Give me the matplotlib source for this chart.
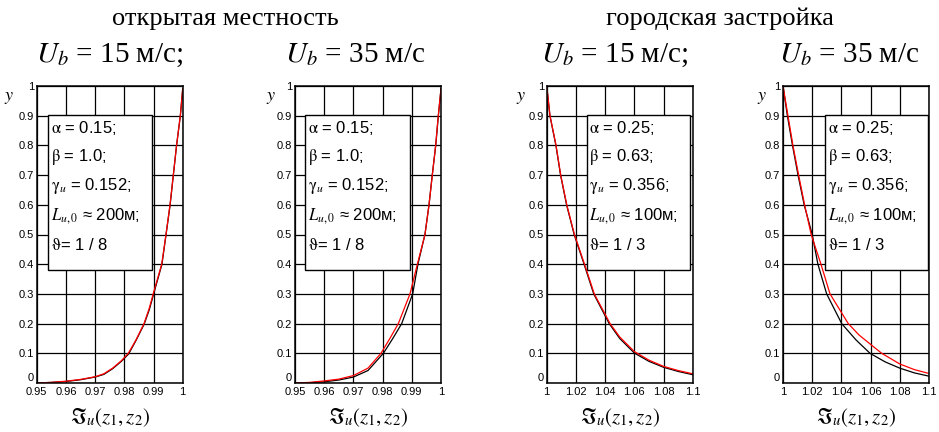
import matplotlib
matplotlib.use("Agg")
import matplotlib.pyplot as plt
from matplotlib.patches import Rectangle

plt.rcParams['mathtext.fontset'] = 'stix'

# headings
group_titles = ['открытая местность', 'городская застройка']
speed_titles = [r'$U_b$ = 15 м/с;', r'$U_b$ = 35 м/с', r'$U_b$ = 15 м/с;', r'$U_b$ = 35 м/с']

# parameter boxes
box_open = [r'$\mathrm{\alpha}$ = 0.15;', r'$\mathrm{\beta}$ = 1.0;', r'$\mathrm{\gamma}_u$ = 0.152;',
            r'$L_{u,0}$ ≈ 200м;', r'$\mathrm{\vartheta}$= 1 / 8']
box_urban = [r'$\mathrm{\alpha}$ = 0.25;', r'$\mathrm{\beta}$ = 0.63;', r'$\mathrm{\gamma}_u$ = 0.356;',
             r'$L_{u,0}$ ≈ 100м;', r'$\mathrm{\vartheta}$= 1 / 3']

# ticks
xt_open = [0.95, 0.96, 0.97, 0.98, 0.99, 1.0]
xl_open = ['0.95', '0.96', '0.97', '0.98', '0.99', '1']
xt_urban = [1.0, 1.02, 1.04, 1.06, 1.08, 1.1]
xl_urban = ['1', '1.02', '1.04', '1.06', '1.08', '1.1']
yt = [0, 0.1, 0.2, 0.3, 0.4, 0.5, 0.6, 0.7, 0.8, 0.9, 1.0]
yl = ['0', '0.1', '0.2', '0.3', '0.4', '0.5', '0.6', '0.7', '0.8', '0.9', '1']

# curves: open terrain, 15 m/s
x1_black = [0.95, 0.955, 0.96, 0.965, 0.97, 0.973, 0.976, 0.979, 0.9815, 0.984, 0.9868, 0.9886,
            0.99, 0.9929, 0.9943, 0.9957, 0.9968, 0.9979, 0.9992, 1.0]
y1_black = [0, 0.002, 0.005, 0.011, 0.02, 0.029, 0.048, 0.073, 0.098, 0.143, 0.198, 0.248,
            0.298, 0.4, 0.5, 0.6, 0.7, 0.8, 0.9, 0.99]
x1_red = [0.95, 0.955, 0.96, 0.965, 0.97, 0.973, 0.976, 0.979, 0.98137, 0.984, 0.98675, 0.9885,
          0.9899, 0.99281, 0.99428, 0.99565, 0.99678, 0.9979, 0.99918, 1.0]
y1_red = [0, 0.002, 0.006, 0.012, 0.021, 0.031, 0.05, 0.075, 0.1, 0.145, 0.2, 0.25,
          0.3, 0.4, 0.5, 0.6, 0.7, 0.8, 0.9, 0.99]
# open terrain, 35 m/s
x2_black = [0.95, 0.955, 0.96, 0.965, 0.97, 0.975, 0.98027, 0.9835, 0.98654, 0.9903, 0.9921,
            0.9945, 0.9959, 0.997, 0.9982, 0.9991, 1.0]
y2_black = [0, 0.001, 0.004, 0.01, 0.02, 0.042, 0.1, 0.15, 0.2, 0.3, 0.4,
            0.5, 0.6, 0.7, 0.8, 0.9, 0.99]
x2_red = [0.95, 0.955, 0.96, 0.965, 0.97, 0.975, 0.97945, 0.9825, 0.98539, 0.98938, 0.9919,
          0.99452, 0.99589, 0.99703, 0.99817, 0.99906, 1.0]
y2_red = [0, 0.002, 0.007, 0.013, 0.025, 0.05, 0.1, 0.15, 0.2, 0.3, 0.4,
          0.5, 0.6, 0.7, 0.8, 0.9, 0.99]
# urban, 15 m/s
x3_black = [1.0, 1.0022, 1.0063, 1.0095, 1.0136, 1.0188, 1.0256, 1.0322, 1.0428, 1.05, 1.06,
            1.07, 1.08, 1.09, 1.1]
y3_black = [1.0, 0.9, 0.8, 0.7, 0.6, 0.5, 0.4, 0.3, 0.2, 0.15, 0.101,
            0.073, 0.053, 0.039, 0.028]
x3_red = [1.0, 1.00227, 1.0064, 1.0096, 1.01376, 1.019, 1.0259, 1.0326, 1.0434, 1.05, 1.06,
          1.07, 1.08, 1.09, 1.1]
y3_red = [1.0, 0.9, 0.8, 0.7, 0.6, 0.5, 0.4, 0.3, 0.2, 0.155, 0.106,
          0.077, 0.056, 0.042, 0.031]
# urban, 35 m/s
x4_black = [1.0, 1.003, 1.0065, 1.0103, 1.0145, 1.02, 1.0239, 1.0299, 1.0402, 1.05, 1.0596,
            1.07, 1.08, 1.09, 1.1]
y4_black = [1.0, 0.9, 0.8, 0.7, 0.6, 0.5, 0.4, 0.3, 0.2, 0.145, 0.1,
            0.071, 0.05, 0.034, 0.023]
x4_red = [1.0, 1.0034, 1.0068, 1.0107, 1.0148, 1.0193, 1.026, 1.0322, 1.0447, 1.052, 1.06,
          1.0676, 1.08, 1.09, 1.1]
y4_red = [1.0, 0.9, 0.8, 0.7, 0.6, 0.5, 0.4, 0.3, 0.2, 0.162, 0.13,
          0.1, 0.064, 0.045, 0.032]

panels = [
    dict(xb=x1_black, yb=y1_black, xr=x1_red, yr=y1_red, xt=xt_open, xl=xl_open, box=box_open,
         left=36.7, bx=(0.078, 0.79), tx=0.1, ylab=-0.19),
    dict(xb=x2_black, yb=y2_black, xr=x2_red, yr=y2_red, xt=xt_open, xl=xl_open, box=box_open,
         left=295, bx=(0.068, 0.788), tx=0.09, ylab=-0.166),
    dict(xb=x3_black, yb=y3_black, xr=x3_red, yr=y3_red, xt=xt_urban, xl=xl_urban, box=box_urban,
         left=546.7, bx=(0.275, 0.979), tx=0.29, ylab=-0.179),
    dict(xb=x4_black, yb=y4_black, xr=x4_red, yr=y4_red, xt=xt_urban, xl=xl_urban, box=box_urban,
         left=783, bx=(0.288, 0.991), tx=0.305, ylab=-0.146),
]

W, H = 939, 432
fig = plt.figure(figsize=(W / 100, H / 100), dpi=100)

for p in panels:
    ax = fig.add_axes([p['left'] / W, (H - 383) / H, 146 / W, 297 / H])
    ax.plot(p['xb'], p['yb'], color='black', lw=0.9)
    ax.plot(p['xr'], p['yr'], color='red', lw=0.9)
    ax.set_xlim(p['xt'][0], p['xt'][-1])
    ax.set_ylim(0, 1)
    ax.set_xticks(p['xt'])
    ax.set_xticklabels(p['xl'], fontfamily='Liberation Sans', fontsize=8)
    ax.set_yticks(yt)
    ax.set_yticklabels(yl, fontfamily='Liberation Sans', fontsize=8)
    ax.get_yticklabels()[0].set_va('bottom')
    ax.tick_params(length=0, pad=2)
    ax.tick_params(axis='x', pad=3)
    ax.set_axisbelow(True)
    ax.grid(True, color='black', lw=0.9)
    for s in ax.spines.values():
        s.set_linewidth(1.1)
    # parameter box
    x0, x1 = p['bx']
    ax.add_patch(Rectangle((x0, 0.38), x1 - x0, 0.522, transform=ax.transAxes,
                           facecolor='white', edgecolor='black', lw=1.0, zorder=1))
    for i, line in enumerate(p['box']):
        ax.text(p['tx'], 0.859 - i * 0.0985, line, transform=ax.transAxes, va='center',
                ha='left', fontfamily='Liberation Sans', fontsize=12, zorder=3)
    ax.text(p['ylab'], 0.963, r'$y$', transform=ax.transAxes, ha='center', va='center',
            fontsize=13)
    ax.text(0.5, -0.118, r'$\Im_u(z_1, z_2)$', transform=ax.transAxes, ha='center',
            va='center', fontsize=15)

fig.text(225 / W, 1 - 25 / H, group_titles[0], ha='center', va='baseline',
         fontfamily='Liberation Serif', fontsize=19)
fig.text(720 / W, 1 - 25 / H, group_titles[1], ha='center', va='baseline',
         fontfamily='Liberation Serif', fontsize=19)
for cx, t in zip([110, 355, 615, 849], speed_titles):
    fig.text(cx / W, 1 - 62 / H, t, ha='center', va='baseline',
             fontfamily='Liberation Serif', fontsize=21)

fig.savefig('out.png', dpi=100)
